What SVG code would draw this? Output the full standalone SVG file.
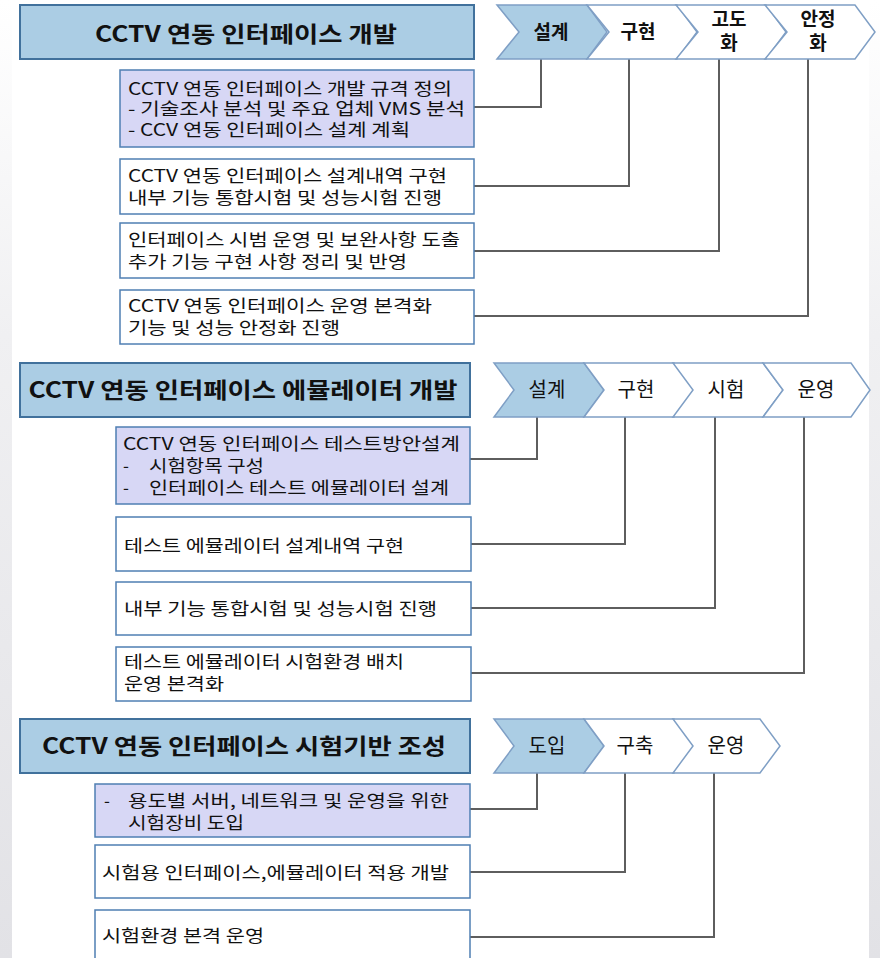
<svg xmlns="http://www.w3.org/2000/svg" width="880" height="958" viewBox="0 0 880 958">
<style>
text{font-family:"Noto Sans CJK KR","Noto Sans",sans-serif;fill:#111}
.hdr{fill:#abcde4;stroke:#41719c;stroke-width:2}
.hdt{font-size:22px;font-weight:700;text-anchor:middle}
.chb{fill:#abcde4;stroke:#7f9fc5;stroke-width:1.5}
.chw{fill:#fff;stroke:#7f9fc5;stroke-width:1.5}
.cht{font-size:19px;text-anchor:middle;font-weight:700}
.ch2{font-size:20px;text-anchor:middle}
.bx{fill:#fff;stroke:#4f7fb3;stroke-width:1.5}
.bl{fill:#d7d7f5;stroke:#4f7fb3;stroke-width:1.5}
.t{font-size:17px}
.cn{fill:none;stroke:#5e5e5e;stroke-width:2}
</style>
<defs>
<linearGradient id="edge" x1="0" y1="0" x2="0" y2="1">
<stop offset="0" stop-color="#ffffff"/>
<stop offset="0.35" stop-color="#f0f0f2"/>
<stop offset="1" stop-color="#e2e2e6"/>
</linearGradient>
</defs>
<rect width="880" height="958" fill="#fff"/>
<rect x="0" y="0" width="12" height="958" fill="url(#edge)"/>
<rect x="869" y="0" width="11" height="958" fill="url(#edge)"/>

<g id="connectors">
<path class="cn" d="M541,59 V107 H474"/>
<path class="cn" d="M629,59 V186 H474"/>
<path class="cn" d="M719,59 V251 H474"/>
<path class="cn" d="M808,59 V316 H474"/>
<path class="cn" d="M537,417 V459 H470"/>
<path class="cn" d="M625,417 V544 H471"/>
<path class="cn" d="M715,417 V608 H471"/>
<path class="cn" d="M804,417 V673 H471"/>
<path class="cn" d="M537,773 V809 H470"/>
<path class="cn" d="M625,773 V872 H470"/>
<path class="cn" d="M714,773 V937 H470"/>
</g>

<!-- Section 1 -->
<g id="s1-header">
<rect class="hdr" x="20" y="5" width="454" height="54"/>
<text class="hdt" x="246" y="42" textLength="302" lengthAdjust="spacingAndGlyphs">CCTV 연동 인터페이스 개발</text>
</g>
<g id="s1-ch1"><polygon class="chb" points="497,5 587,5 607,32 587,59 497,59 519,32"/><text class="cht" x="551" y="39">설계</text></g>
<g id="s1-ch2"><polygon class="chw" points="587,5 677,5 697,32 677,59 587,59 609,32"/><text class="cht" x="638" y="39">구현</text></g>
<g id="s1-ch3"><polygon class="chw" points="676,5 766,5 786,32 766,59 676,59 698,32"/><text class="cht"><tspan x="729" y="26">고도</tspan><tspan x="729" y="50">화</tspan></text></g>
<g id="s1-ch4"><polygon class="chw" points="765,5 855,5 875,32 855,59 765,59 787,32"/><text class="cht"><tspan x="818" y="26">안정</tspan><tspan x="818" y="50">화</tspan></text></g>

<g id="s1-box1">
<rect class="bl" x="120" y="70" width="354" height="77"/>
<text class="t"><tspan x="128" y="95" textLength="324" lengthAdjust="spacingAndGlyphs">CCTV 연동 인터페이스 개발 규격 정의</tspan><tspan x="128" y="115" textLength="337" lengthAdjust="spacingAndGlyphs">- 기술조사 분석 및 주요 업체 VMS 분석</tspan><tspan x="128" y="136" textLength="282" lengthAdjust="spacingAndGlyphs">- CCV 연동 인터페이스 설계 계획</tspan></text>
</g>
<g id="s1-box2">
<rect class="bx" x="120" y="159" width="354" height="55"/>
<text class="t"><tspan x="128" y="182" textLength="319" lengthAdjust="spacingAndGlyphs">CCTV 연동 인터페이스 설계내역 구현</tspan><tspan x="128" y="204" textLength="314" lengthAdjust="spacingAndGlyphs">내부 기능 통합시험 및 성능시험 진행</tspan></text>
</g>
<g id="s1-box3">
<rect class="bx" x="120" y="223" width="354" height="55"/>
<text class="t"><tspan x="128" y="246" textLength="332" lengthAdjust="spacingAndGlyphs">인터페이스 시범 운영 및 보완사항 도출</tspan><tspan x="128" y="268" textLength="279" lengthAdjust="spacingAndGlyphs">추가 기능 구현 사항 정리 및 반영</tspan></text>
</g>
<g id="s1-box4">
<rect class="bx" x="120" y="290" width="354" height="54"/>
<text class="t"><tspan x="128" y="312" textLength="304" lengthAdjust="spacingAndGlyphs">CCTV 연동 인터페이스 운영 본격화</tspan><tspan x="128" y="334" textLength="212" lengthAdjust="spacingAndGlyphs">기능 및 성능 안정화 진행</tspan></text>
</g>

<!-- Section 2 -->
<g id="s2-header">
<rect class="hdr" x="20" y="363" width="450" height="54"/>
<text class="hdt" x="243" y="398" textLength="429" lengthAdjust="spacingAndGlyphs">CCTV 연동 인터페이스 에뮬레이터 개발</text>
</g>
<g id="s2-ch1"><polygon class="chb" points="494,363 584,363 604,390 584,417 494,417 514,390"/><text class="ch2" x="547" y="397">설계</text></g>
<g id="s2-ch2"><polygon class="chw" points="584,363 674,363 694,390 674,417 584,417 604,390"/><text class="ch2" x="636" y="397">구현</text></g>
<g id="s2-ch3"><polygon class="chw" points="673,363 763,363 783,390 763,417 673,417 693,390"/><text class="ch2" x="726" y="397">시험</text></g>
<g id="s2-ch4"><polygon class="chw" points="763,363 851,363 870,390 851,417 763,417 783,390"/><text class="ch2" x="816" y="397">운영</text></g>

<g id="s2-box1">
<rect class="bl" x="116" y="427" width="354" height="77"/>
<text class="t"><tspan x="123" y="450" textLength="337" lengthAdjust="spacingAndGlyphs">CCTV 연동 인터페이스 테스트방안설계</tspan><tspan x="123" y="472">-</tspan><tspan x="149" y="472" textLength="115" lengthAdjust="spacingAndGlyphs">시험항목 구성</tspan><tspan x="123" y="494">-</tspan><tspan x="149" y="494" textLength="300" lengthAdjust="spacingAndGlyphs">인터페이스 테스트 에뮬레이터 설계</tspan></text>
</g>
<g id="s2-box2">
<rect class="bx" x="116" y="517" width="355" height="54"/>
<text class="t" x="124" y="552" textLength="280" lengthAdjust="spacingAndGlyphs">테스트 에뮬레이터 설계내역 구현</text>
</g>
<g id="s2-box3">
<rect class="bx" x="116" y="582" width="355" height="53"/>
<text class="t" x="124" y="615" textLength="313" lengthAdjust="spacingAndGlyphs">내부 기능 통합시험 및 성능시험 진행</text>
</g>
<g id="s2-box4">
<rect class="bx" x="116" y="647" width="355" height="54"/>
<text class="t"><tspan x="124" y="668" textLength="280" lengthAdjust="spacingAndGlyphs">테스트 에뮬레이터 시험환경 배치</tspan><tspan x="124" y="690" textLength="100" lengthAdjust="spacingAndGlyphs">운영 본격화</tspan></text>
</g>

<!-- Section 3 -->
<g id="s3-header">
<rect class="hdr" x="20" y="719" width="450" height="54"/>
<text class="hdt" x="244" y="754" textLength="404" lengthAdjust="spacingAndGlyphs">CCTV 연동 인터페이스 시험기반 조성</text>
</g>
<g id="s3-ch1"><polygon class="chb" points="494,719 584,719 604,746 584,773 494,773 514,746"/><text class="ch2" x="547" y="753">도입</text></g>
<g id="s3-ch2"><polygon class="chw" points="584,719 674,719 694,746 674,773 584,773 604,746"/><text class="ch2" x="635" y="753">구축</text></g>
<g id="s3-ch3"><polygon class="chw" points="673,719 760,719 780,746 760,773 673,773 693,746"/><text class="ch2" x="726" y="753">운영</text></g>

<g id="s3-box1">
<rect class="bl" x="95" y="784" width="375" height="53"/>
<text class="t"><tspan x="104" y="807">-</tspan><tspan x="128" y="807" textLength="321" lengthAdjust="spacingAndGlyphs">용도별 서버, 네트워크 및 운영을 위한</tspan><tspan x="128" y="829" textLength="116" lengthAdjust="spacingAndGlyphs">시험장비 도입</tspan></text>
</g>
<g id="s3-box2">
<rect class="bx" x="95" y="845" width="375" height="53"/>
<text class="t" x="102" y="879" textLength="347" lengthAdjust="spacingAndGlyphs">시험용 인터페이스,에뮬레이터 적용 개발</text>
</g>
<g id="s3-box3">
<rect class="bx" x="95" y="910" width="375" height="60"/>
<text class="t" x="102" y="942" textLength="162" lengthAdjust="spacingAndGlyphs">시험환경 본격 운영</text>
</g>
</svg>
